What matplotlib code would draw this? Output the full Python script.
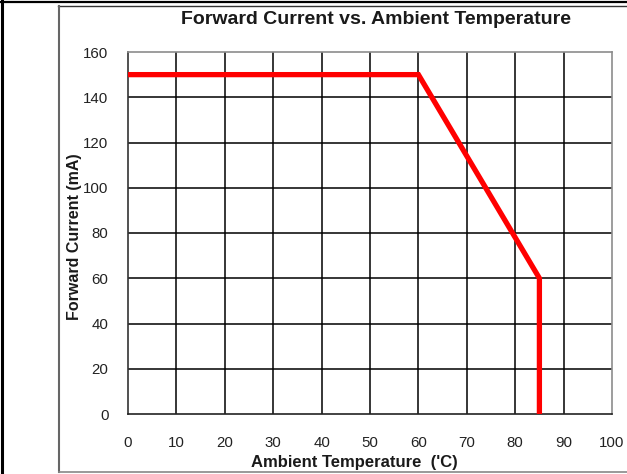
import matplotlib.pyplot as plt
from matplotlib.lines import Line2D

# --- data ---
temp_c = [0, 60, 85, 85]
current_ma = [150, 150, 60, 0]
x_ticks = [0, 10, 20, 30, 40, 50, 60, 70, 80, 90, 100]
y_ticks = [0, 20, 40, 60, 80, 100, 120, 140, 160]

plt.rcParams['font.family'] = ['Liberation Sans', 'DejaVu Sans']

W, H = 627, 474
fig = plt.figure(figsize=(W / 100, H / 100), dpi=100)

# plot area in pixel coordinates
left, right, top, bottom = 128, 612, 52, 414
ax = fig.add_axes([left / W, 1 - bottom / H, (right - left) / W, (bottom - top) / H])

ax.plot(temp_c, current_ma, color='#ff0000', lw=3.8, solid_joinstyle='miter', zorder=3)

ax.set_xlim(0, 100)
ax.set_ylim(0, 160)
ax.set_xticks(x_ticks)
ax.set_yticks(y_ticks)
ax.tick_params(axis='both', length=0, labelsize=10.8, labelcolor='#222222')
ax.tick_params(axis='x', pad=16)
ax.tick_params(axis='y', pad=14)

# black gridlines on every tick
for xv in x_ticks[1:-1]:
    ax.axvline(xv, color='black', lw=1.1, zorder=1)
for yv in y_ticks[1:-1]:
    ax.axhline(yv, color='black', lw=1.1, zorder=1)

ax.spines['left'].set_color('#333333')
ax.spines['bottom'].set_color('#222222')
ax.spines['top'].set_color('#8c8c8c')
ax.spines['right'].set_color('#8c8c8c')
for s in ax.spines.values():
    s.set_linewidth(1.2)

# titles and labels placed in pixel coordinates
fig.text(376 / W, 1 - 20 / H, 'Forward Current vs. Ambient Temperature',
         ha='center', va='center', fontsize=14, fontweight='bold', color='#1a1a1a')
fig.text(354 / W, 1 - 462 / H, "Ambient Temperature  ('C)",
         ha='center', va='center', fontsize=12, fontweight='bold', color='#1a1a1a')
fig.text(75 / W, 1 - 237 / H, 'Forward Current (mA)', rotation=90,
         ha='center', va='center', fontsize=11.5, fontweight='bold', color='#1a1a1a')

# outer frame lines of the original document
def px_line(x0, y0, x1, y1, color, lw):
    fig.add_artist(Line2D([x0 / W, x1 / W], [1 - y0 / H, 1 - y1 / H],
                          transform=fig.transFigure, color=color, lw=lw))

px_line(2, 0, 2, H, 'black', 2.2)
px_line(0, 2, W, 2, 'black', 1.6)
px_line(58, 6, W, 6, '#333333', 1.0)
px_line(59, 6, 59, 472, '#666666', 1.5)
px_line(59, 472, W, 472, '#888888', 1.2)

fig.savefig('out.png', dpi=100)
